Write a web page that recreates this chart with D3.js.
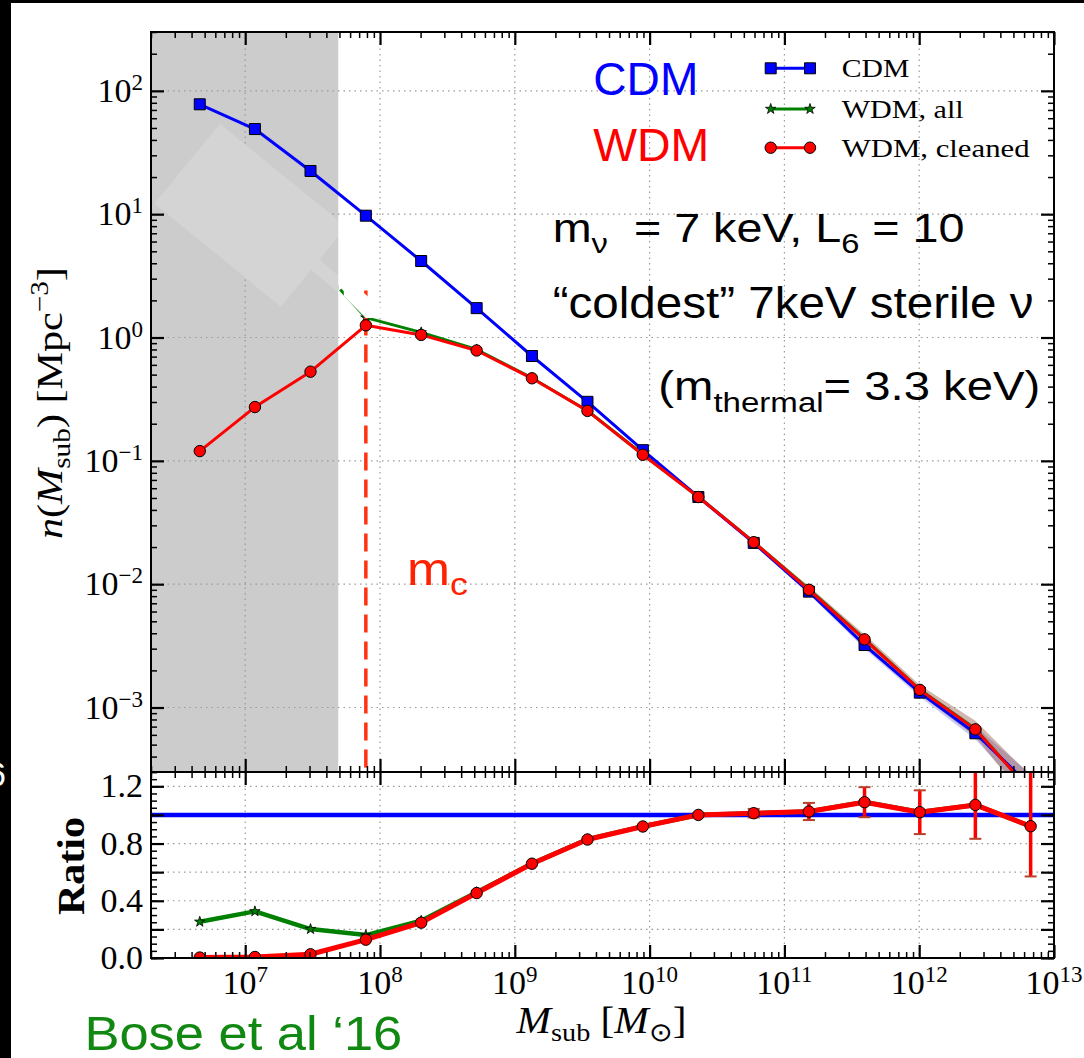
<!DOCTYPE html>
<html>
<head>
<meta charset="utf-8">
<script src="https://cdn.jsdelivr.net/npm/d3@7"></script>
<style>
  body { margin: 0; background: #fff; }
  svg { display: block; }
</style>
</head>
<body>
<svg id="chart" width="1084" height="1058"></svg>
<script>
// subhalo mass bins [Msun]
var massBins = [4.6e6, 1.18e7, 3.05e7, 7.85e7, 2.02e8, 5.21e8, 1.34e9, 3.46e9, 8.91e9, 2.30e10, 5.92e10, 1.52e11, 3.93e11, 1.01e12, 2.61e12, 6.71e12];
// n(Msub) [Mpc^-3]
var cdmN = [77.8, 49.0, 22.4, 9.72, 4.17, 1.73, 0.708, 0.301, 0.122, 0.0509, 0.0216, 0.0087, 0.00321, 0.00132, 0.000618, 0.00023];
var wdmAllN = [19.5, 16.0, 4.5, 1.45, 1.10, 0.80, 0.47, 0.255, 0.113, 0.0512, 0.0220, 0.0091, 0.0036, 0.0014, 0.00067, 0.00021];
var wdmCleanN = [0.120, 0.273, 0.528, 1.256, 1.05, 0.785, 0.467, 0.254, 0.112, 0.0509, 0.0219, 0.0090, 0.00357, 0.00139, 0.000665, 0.00021];
// shaded scatter at the high mass end (bins 10..15)
var bandCdmLo = [0.0209, 0.0083, 0.0030, 0.00122, 0.00055, 0.00018];
var bandCdmHi = [0.0223, 0.0091, 0.0034, 0.00143, 0.00070, 0.00029];
var bandWdmLo = [0.0212, 0.0086, 0.0033, 0.00128, 0.00058, 0.00016];
var bandWdmHi = [0.0226, 0.0096, 0.0039, 0.00152, 0.00078, 0.00028];
// ratio panel
var ratioAll = [0.253, 0.326, 0.202, 0.160, 0.26, 0.46, 0.66, 0.83, 0.92, 1.0, 1.012, 1.024, 1.09, 1.02, 1.07, 0.92];
var ratioClean = [0.003, 0.007, 0.026, 0.128, 0.247, 0.454, 0.659, 0.828, 0.919, 1.0, 1.012, 1.024, 1.089, 1.019, 1.07, 0.921];
var ratioErrLo = [0, 0, 0, 0, 0, 0, 0, 0, 0, 0.01, 0.03, 0.06, 0.105, 0.153, 0.237, 0.351];
var ratioErrHi = [0, 0, 0, 0, 0, 0, 0, 0, 0, 0.01, 0.03, 0.06, 0.105, 0.153, 0.30, 0.45];
// resolution limit and half-mode mass
var shadeMax = 4.9e7;
var mCut = 7.85e7, mCutTop = 2.4;
// tick labels
var xTickExps = [7, 8, 9, 10, 11, 12, 13];
var yTickExps = [-3, -2, -1, 0, 1, 2];
var ratioTickLabels = [0.0, 0.4, 0.8, 1.2];
// light cover patches pasted on the slide, in data coordinates
var coverPatch = [[6.49e6, 53.8], [5.64e7, 7.91], [3.55e7, 4.27], [5.75e7, 2.75], [4.85e7, 2.35], [3.09e7, 3.55], [1.84e7, 1.78], [2.12e6, 12.2]];
var coverPatch2 = [[5.39e7, 2.82], [6.18e7, 2.82], [1.03e8, 1.70], [9.96e7, 1.44], [7.84e7, 1.44], [5.39e7, 2.17]];

var L = 151, R = 1054, T = 32, MB = 772, RB = 958;
var svg = d3.select("#chart");
var x = d3.scaleLog().domain([2e6, 1e13]).range([L, R]);
var y = d3.scaleLog().domain([3e-4, 3e2]).range([MB, T]);
var yr = d3.scaleLinear().domain([0, 1.3]).range([RB, MB]);

var serif = "'Liberation Serif','Times New Roman',serif";
var sans = "'Liberation Sans',Arial,sans-serif";

// slide border
svg.append("rect").attr("x", 0).attr("y", 0).attr("width", 1084).attr("height", 1058).attr("fill", "#fff");
svg.append("rect").attr("x", 0).attr("y", 0).attr("width", 11).attr("height", 1058).attr("fill", "#000");
svg.append("rect").attr("x", 0).attr("y", 0).attr("width", 1084).attr("height", 3).attr("fill", "#000");
svg.append("text").attr("x", 6).attr("y", 786).attr("text-anchor", "end")
  .attr("font-family", sans).attr("font-size", 34).attr("fill", "#fff").text("6");

var defs = svg.append("defs");
defs.append("clipPath").attr("id", "clipMain").append("rect")
  .attr("x", L).attr("y", T).attr("width", R - L).attr("height", MB - T);
defs.append("clipPath").attr("id", "clipRatio").append("rect")
  .attr("x", L).attr("y", MB).attr("width", R - L).attr("height", RB - MB);
defs.append("clipPath").attr("id", "clipShade").append("rect")
  .attr("x", L).attr("y", T).attr("width", x(shadeMax) - L).attr("height", MB - T);
defs.append("clipPath").attr("id", "clipWhite").append("rect")
  .attr("x", x(shadeMax)).attr("y", T).attr("width", R - x(shadeMax)).attr("height", MB - T);

var isDecade = function(v) { var l = Math.log10(v); return Math.abs(l - Math.round(l)) < 1e-6; };
var xMajor = xTickExps.map(function(e) { return Math.pow(10, e); });
var xMinor = x.ticks().filter(function(v) { return !isDecade(v); });
var yMajor = yTickExps.map(function(e) { return Math.pow(10, e); });
var yMinor = y.ticks().filter(function(v) { return !isDecade(v); });
var rMajor = yr.ticks(7);
var rMinor = yr.ticks(26);

var main = svg.append("g").attr("clip-path", "url(#clipMain)");
var ratio = svg.append("g").attr("clip-path", "url(#clipRatio)");

// resolution shade
main.append("rect").attr("x", L).attr("y", T).attr("width", x(shadeMax) - L).attr("height", MB - T).attr("fill", "#cccccc");

// grids
function grid(g, xs, ys, yScale, y0, y1) {
  g.selectAll(null).data(xs).enter().append("line")
    .attr("x1", function(d) { return x(d); }).attr("x2", function(d) { return x(d); })
    .attr("y1", y0).attr("y2", y1)
    .attr("stroke", "#999").attr("stroke-width", 1.2).attr("stroke-dasharray", "1.5,4");
  g.selectAll(null).data(ys).enter().append("line")
    .attr("x1", L).attr("x2", R)
    .attr("y1", function(d) { return yScale(d); }).attr("y2", function(d) { return yScale(d); })
    .attr("stroke", "#999").attr("stroke-width", 1.2).attr("stroke-dasharray", "1.5,4");
}
grid(main, xMajor, yMajor, y, T, MB);
grid(ratio, xMajor, rMajor.filter(function(v) { return v > 0; }), yr, MB, RB);

// data records
var rows = massBins.map(function(m, i) {
  return { m: m, cdm: cdmN[i], all: wdmAllN[i], clean: wdmCleanN[i],
           rAll: ratioAll[i], rClean: ratioClean[i], lo: ratioErrLo[i], hi: ratioErrHi[i] };
});
var bandRows = massBins.slice(10).map(function(m, i) {
  return { m: m, cLo: bandCdmLo[i], cHi: bandCdmHi[i], wLo: bandWdmLo[i], wHi: bandWdmHi[i] };
});

// scatter bands
main.append("path").datum(bandRows)
  .attr("d", d3.area().x(function(d) { return x(d.m); }).y0(function(d) { return y(d.cLo); }).y1(function(d) { return y(d.cHi); }))
  .attr("fill", "#6a6ad8").attr("opacity", 0.35);
main.append("path").datum(bandRows)
  .attr("d", d3.area().x(function(d) { return x(d.m); }).y0(function(d) { return y(d.wLo); }).y1(function(d) { return y(d.wHi); }))
  .attr("fill", "#8b4a3a").attr("opacity", 0.4);

var star = d3.symbol().type(d3.symbolStar).size(34);
var square = d3.symbol().type(d3.symbolSquare).size(121);

function drawSeries(g, key, yScale, color, width, marker) {
  g.append("path").datum(rows)
    .attr("d", d3.line().x(function(d) { return x(d.m); }).y(function(d) { return yScale(d[key]); }))
    .attr("fill", "none").attr("stroke", color).attr("stroke-width", width).attr("stroke-linejoin", "round");
  var pts = g.selectAll(null).data(rows).enter();
  if (marker === "circle") {
    pts.append("circle").attr("cx", function(d) { return x(d.m); }).attr("cy", function(d) { return yScale(d[key]); })
      .attr("r", 5.7).attr("fill", color).attr("stroke", "#000").attr("stroke-width", 1);
  } else {
    pts.append("path").attr("d", marker === "star" ? star : square)
      .attr("transform", function(d) { return "translate(" + x(d.m) + "," + yScale(d[key]) + ")"; })
      .attr("fill", color).attr("stroke", "#000").attr("stroke-width", marker === "star" ? 0.8 : 1);
  }
}

// main panel
drawSeries(main, "all", y, "#008000", 3, "star");
main.append("line").attr("x1", x(mCut)).attr("x2", x(mCut)).attr("y1", y(mCutTop)).attr("y2", MB + 4)
  .attr("stroke", "#ff3311").attr("stroke-width", 3.5).attr("stroke-dasharray", "18,9");
var patchLine = d3.line().x(function(d) { return x(d[0]); }).y(function(d) { return y(d[1]); }).curve(d3.curveLinearClosed);
main.append("path").attr("d", patchLine(coverPatch)).attr("fill", "#fff").attr("clip-path", "url(#clipWhite)");
main.append("path").attr("d", patchLine(coverPatch)).attr("fill", "#d4d4d4").attr("clip-path", "url(#clipShade)");
main.append("path").attr("d", patchLine(coverPatch2)).attr("fill", "#fff");
drawSeries(main, "cdm", y, "#0000ff", 3, "square");
drawSeries(main, "clean", y, "#ff0000", 3, "circle");

// ratio panel
ratio.append("line").attr("x1", L).attr("x2", R).attr("y1", yr(1)).attr("y2", yr(1))
  .attr("stroke", "#0000ff").attr("stroke-width", 4.5);
drawSeries(ratio, "rAll", yr, "#008000", 4.5, "star");
var eb = ratio.selectAll(null).data(rows.filter(function(d) { return d.lo > 0; })).enter().append("g");
eb.append("line").attr("x1", function(d) { return x(d.m); }).attr("x2", function(d) { return x(d.m); })
  .attr("y1", function(d) { return yr(d.rClean - d.lo); }).attr("y2", function(d) { return yr(d.rClean + d.hi); })
  .attr("stroke", "#ff0000").attr("stroke-width", 3.5);
[["lo", -1], ["hi", 1]].forEach(function(c) {
  eb.append("line").attr("x1", function(d) { return x(d.m) - 6; }).attr("x2", function(d) { return x(d.m) + 6; })
    .attr("y1", function(d) { return yr(d.rClean + c[1] * d[c[0]]); }).attr("y2", function(d) { return yr(d.rClean + c[1] * d[c[0]]); })
    .attr("stroke", "#b8402a").attr("stroke-width", 2);
});
drawSeries(ratio, "rClean", yr, "#ff0000", 5, "circle");

// frames
[[T, MB], [MB, RB]].forEach(function(p) {
  svg.append("rect").attr("x", L).attr("y", p[0]).attr("width", R - L).attr("height", p[1] - p[0])
    .attr("fill", "none").attr("stroke", "#000").attr("stroke-width", 2);
});

// ticks (inward, all sides)
function tickAxis(axisFn, scale, vals, size, width, tr) {
  var g = svg.append("g").attr("transform", tr)
    .call(axisFn(scale).tickValues(vals).tickSize(size).tickFormat(""));
  g.select(".domain").remove();
  g.selectAll("line").attr("stroke", "#000").attr("stroke-width", width);
}
[[xMajor, 13, 2.2], [xMinor, 6, 1.5]].forEach(function(s) {
  tickAxis(d3.axisTop, x, s[0], -s[1], s[2], "translate(0," + T + ")");
  tickAxis(d3.axisBottom, x, s[0], -s[1], s[2], "translate(0," + MB + ")");
  tickAxis(d3.axisBottom, x, s[0], s[1], s[2], "translate(0," + MB + ")");
  tickAxis(d3.axisBottom, x, s[0], -s[1], s[2], "translate(0," + RB + ")");
});
[[yMajor, 13, 2.2], [yMinor, 6, 1.5]].forEach(function(s) {
  tickAxis(d3.axisLeft, y, s[0], -s[1], s[2], "translate(" + L + ",0)");
  tickAxis(d3.axisRight, y, s[0], -s[1], s[2], "translate(" + R + ",0)");
});
[[rMajor, 13, 2.2], [rMinor, 6, 1.5]].forEach(function(s) {
  tickAxis(d3.axisLeft, yr, s[0], -s[1], s[2], "translate(" + L + ",0)");
  tickAxis(d3.axisRight, yr, s[0], -s[1], s[2], "translate(" + R + ",0)");
});

// tick labels
function powLabel(t, e) {
  t.append("tspan").text("10");
  t.append("tspan").attr("dy", -12).attr("font-size", 23).text(e < 0 ? "\u2212" + (-e) : String(e));
}
yTickExps.forEach(function(e) {
  var t = svg.append("text").attr("x", L - 8).attr("y", y(Math.pow(10, e)) + 11)
    .attr("text-anchor", "end").attr("font-family", serif).attr("font-size", 34);
  powLabel(t, e);
});
xTickExps.forEach(function(e) {
  var t = svg.append("text").attr("x", x(Math.pow(10, e))).attr("y", 994)
    .attr("text-anchor", "middle").attr("font-family", serif).attr("font-size", 34);
  powLabel(t, e);
});
ratioTickLabels.forEach(function(v) {
  svg.append("text").attr("x", L - 8).attr("y", yr(v) + 11).attr("text-anchor", "end")
    .attr("font-family", serif).attr("font-size", 34).text(d3.format(".1f")(v));
});

// text fitted to a width (slide text is slightly stretched)
function fitText(x0, y0, w, anchor, rot, font, size, build) {
  var grp = svg.append("g").attr("transform", "translate(" + x0 + "," + y0 + ")" + (rot ? " rotate(" + rot + ")" : ""));
  var t = grp.append("text").attr("font-family", font).attr("font-size", size).style("white-space", "pre");
  build(t);
  var bb = t.node().getBBox();
  var s = w / bb.width;
  var shift = anchor === "middle" ? -w / 2 : 0;
  t.attr("transform", "translate(" + shift + ",0) scale(" + s + ",1) translate(" + (-bb.x) + ",0)");
  return t;
}

// axis labels
fitText(601, 1033, 171, "middle", 0, serif, 38, function(t) {
  t.append("tspan").style("font-style", "italic").text("M");
  t.append("tspan").attr("dy", 8).attr("font-size", 26).text("sub");
  t.append("tspan").attr("dy", -8).text(" [");
  t.append("tspan").style("font-style", "italic").text("M");
  t.append("tspan").attr("dy", 8).attr("font-size", 26).text("\u2299");
  t.append("tspan").attr("dy", -8).text("]");
});
fitText(62, 403, 272, "middle", -90, serif, 36, function(t) {
  t.append("tspan").style("font-style", "italic").text("n");
  t.append("tspan").text("(");
  t.append("tspan").style("font-style", "italic").text("M");
  t.append("tspan").attr("dy", 8).attr("font-size", 25).text("sub");
  t.append("tspan").attr("dy", -8).text(") [Mpc");
  t.append("tspan").attr("dy", -14).attr("font-size", 25).text("\u22123");
  t.append("tspan").attr("dy", 14).text("]");
});
fitText(84, 866, 98, "middle", -90, serif, 38, function(t) {
  t.attr("font-weight", "bold").text("Ratio");
});

// legend
var legend = [
  { label: "CDM", color: "#0000ff", marker: "square", cy: 68.3, w: 67.6 },
  { label: "WDM, all", color: "#008000", marker: "star", cy: 109, w: 122 },
  { label: "WDM, cleaned", color: "#ff0000", marker: "circle", cy: 147.7, w: 188 }
];
legend.forEach(function(d) {
  svg.append("line").attr("x1", 770.7).attr("x2", 810).attr("y1", d.cy).attr("y2", d.cy)
    .attr("stroke", d.color).attr("stroke-width", 3);
  [770.7, 810].forEach(function(mx) {
    if (d.marker === "circle") {
      svg.append("circle").attr("cx", mx).attr("cy", d.cy).attr("r", 5.7)
        .attr("fill", d.color).attr("stroke", "#000").attr("stroke-width", 1);
    } else {
      svg.append("path").attr("d", d.marker === "star" ? star : square)
        .attr("transform", "translate(" + mx + "," + d.cy + ")")
        .attr("fill", d.color).attr("stroke", "#000").attr("stroke-width", d.marker === "star" ? 0.8 : 1);
    }
  });
  fitText(841.7, d.cy + 9, d.w, "start", 0, serif, 26, function(t) { t.text(d.label); });
});

// annotations
fitText(593.3, 95, 105, "start", 0, sans, 46, function(t) { t.attr("fill", "#0000ff").text("CDM"); });
fitText(593.3, 160.7, 116, "start", 0, sans, 46, function(t) { t.attr("fill", "#ff0000").text("WDM"); });
fitText(552.7, 241.7, 412, "start", 0, sans, 40, function(t) {
  t.append("tspan").text("m");
  t.append("tspan").attr("dy", 11).attr("font-size", 28).text("\u03bd");
  t.append("tspan").attr("dy", -11).text("  = 7 keV, L");
  t.append("tspan").attr("dy", 11).attr("font-size", 28).text("6");
  t.append("tspan").attr("dy", -11).text(" = 10");
});
fitText(552.7, 318.3, 481, "start", 0, sans, 44, function(t) { t.text("\u201ccoldest\u201d 7keV sterile \u03bd"); });
fitText(658.3, 400, 382, "start", 0, sans, 40, function(t) {
  t.append("tspan").text("(m");
  t.append("tspan").attr("dy", 12).attr("font-size", 28).text("thermal");
  t.append("tspan").attr("dy", -12).text("= 3.3 keV)");
});
fitText(407, 585, 61, "start", 0, sans, 46, function(t) {
  t.attr("fill", "#ff2200");
  t.append("tspan").text("m");
  t.append("tspan").attr("dy", 10).attr("font-size", 32).text("c");
});
fitText(84.4, 1050, 318, "start", 0, sans, 48, function(t) { t.attr("fill", "#118811").text("Bose et al \u201816"); });
</script>
</body>
</html>
